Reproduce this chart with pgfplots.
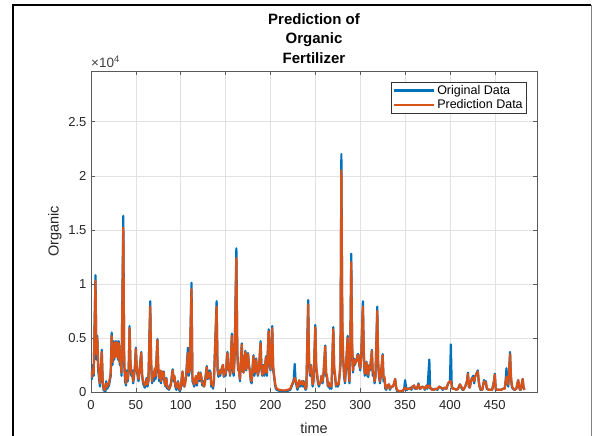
\documentclass[border=0pt]{standalone}
\usepackage{fontspec}
\setmainfont{Liberation Sans}
\usepackage{pgfplots}
\usepackage{pgfplotstable}
\pgfplotsset{compat=1.18}

\definecolor{mblue}{RGB}{0,114,189}
\definecolor{morange}{RGB}{217,83,25}
\definecolor{gridc}{RGB}{226,226,226}
\definecolor{axc}{RGB}{90,90,90}

% time, original, prediction
\pgfplotstableread{
t o p
0 2000 1800
1 1200 1400
2 2500 2200
3 1500 1700
5 10800 10300
6 3000 3500
7 5200 5000
8 2000 2500
10 500 800
12 3900 3700
13 1000 1200
14 200 400
15 100 200
16 0 300
17 1000 800
18 300 500
20 600 800
22 1500 1800
23 5500 5200
24 2500 2800
25 4700 4500
26 3000 3200
27 4700 4600
28 3500 3300
29 4700 4600
30 3000 3100
31 4700 4500
32 2500 2800
33 3000 2700
34 1500 1800
36 16300 15200
37 2500 3000
38 1000 1400
39 600 800
40 2000 1800
41 1000 1200
42 2000 2200
43 6100 5900
44 2500 2700
45 1500 1800
46 2000 1700
47 800 1000
48 1500 1700
49 2500 2200
50 4100 4000
51 2000 2200
52 1500 1700
53 1000 1200
54 2000 1800
56 3700 3600
57 1500 1600
58 800 1000
60 400 600
61 1000 800
62 1300 1200
63 500 700
64 1000 1200
66 8400 7900
67 2500 3000
68 800 1000
69 1800 1600
70 1000 1400
71 2000 2200
72 1200 1500
74 4900 4800
75 2000 2200
76 1000 1300
77 1900 2000
78 800 1000
79 1900 1900
80 1200 1400
81 1900 1800
82 800 900
83 500 600
84 1300 1200
85 300 500
86 500 400
87 200 300
89 800 600
91 2100 2000
92 1000 1200
93 1400 1500
94 500 700
95 200 400
97 1000 900
98 200 400
99 100 200
100 300 500
102 1900 1900
103 600 800
104 500 500
105 1000 800
106 1500 1400
108 4100 3600
109 1500 1800
110 2000 2200
112 10100 9500
113 1000 1400
114 800 1000
115 500 700
116 1000 1200
117 1300 1500
118 600 800
120 1800 1800
121 1000 1200
122 1800 1700
123 1200 1400
124 600 800
125 1000 800
126 500 500
127 1000 800
129 2400 2300
130 1200 1300
131 1300 1400
132 2000 1800
133 1900 1800
134 500 700
135 800 800
136 300 500
137 1000 1200
140 8400 7900
141 2000 2500
142 1400 1600
143 2000 1900
144 1500 1700
145 2000 1900
147 2500 2500
148 1400 1500
149 2000 1900
150 1500 1700
152 3700 3600
153 2000 2100
154 2500 2300
155 1500 1600
157 5400 5200
158 2000 2200
159 1500 1800
160 3000 3200
162 13300 12400
163 3500 4000
164 2000 2200
165 2000 1900
166 1000 1200
168 4500 4400
169 2000 2200
170 1800 1800
172 3800 3700
173 2000 2100
175 3600 3500
176 2500 2400
177 2000 2000
178 1000 1200
179 800 1000
181 3400 3300
182 1500 1800
183 2000 2000
184 3100 3000
185 2000 2100
186 1500 1600
187 2000 2100
189 4700 4500
190 2000 2200
191 1500 1600
192 2500 2400
193 1500 1700
195 3300 3200
196 1500 1800
198 5800 5600
199 2500 2800
200 2000 2100
202 6100 5900
203 2000 2400
204 1500 1600
205 700 900
206 300 500
207 200 300
210 100 200
213 100 150
216 100 150
219 100 200
222 200 300
224 600 700
225 800 900
226 1200 1000
227 2600 1300
228 1000 1100
229 600 800
230 200 400
231 500 600
232 1000 1100
233 500 700
234 800 900
235 1000 1000
236 500 700
237 1000 900
238 500 700
239 200 300
240 300 500
242 8500 8100
243 2500 3000
244 1500 1700
245 2500 2400
246 1500 1600
247 500 700
248 1000 1100
250 6200 6000
251 2000 2300
252 1500 1700
253 800 900
254 500 700
255 800 800
256 1000 900
257 1500 1500
258 800 1000
259 1500 1600
261 4300 4200
262 1500 1800
263 1400 1500
264 500 600
265 800 900
266 300 500
267 600 600
268 300 500
270 6000 5800
271 2000 2300
272 1400 1600
273 500 600
274 800 800
275 500 700
276 700 800
277 1500 1600
278 2500 2800
279 22000 20500
280 6000 7000
281 3000 3200
282 1500 1800
283 800 1000
284 2000 2200
286 5200 5000
287 2000 2300
288 800 1000
289 4000 4500
290 12800 12000
291 4000 4500
292 1800 2000
293 3100 3000
294 2500 2600
296 3000 2900
297 3500 3400
298 3500 3400
299 2500 2600
300 2000 2200
301 3000 3000
303 8400 7900
304 3500 3800
305 1500 1700
306 2000 2000
307 2800 2700
308 1500 1700
309 1400 1600
310 2500 2400
311 2000 2100
313 3900 3800
314 1500 1800
315 1800 1800
316 800 1000
317 1500 1400
319 7900 7500
320 2500 2800
321 1400 1600
322 800 1000
323 1500 1600
325 3500 3400
326 1000 1300
327 1300 1400
328 300 500
329 200 300
330 500 600
332 700 700
333 200 300
334 400 500
336 500 500
337 600 600
339 1200 1200
340 400 500
341 100 200
343 0 100
345 100 100
347 0 100
349 300 300
350 1100 400
351 500 300
352 200 300
354 300 300
356 400 300
357 200 300
358 400 500
360 600 600
361 300 400
363 300 300
365 800 700
366 300 400
367 300 300
369 500 500
371 400 400
372 200 300
374 600 600
375 300 400
377 3000 600
378 300 400
380 300 200
382 200 200
384 300 300
386 200 300
388 500 500
390 400 400
392 200 300
394 400 400
396 300 300
398 800 800
400 1000 1000
401 4400 1000
402 500 600
403 300 300
405 300 300
407 200 200
409 300 300
411 700 700
412 500 600
414 200 300
415 200 200
417 500 500
419 1000 1000
420 1800 1700
421 500 700
422 400 400
424 1200 1200
426 1500 1300
427 800 1000
428 1400 1400
431 2000 1900
432 1000 1100
433 500 500
434 200 300
436 200 200
438 1100 1000
439 800 800
440 1000 900
441 300 400
443 200 200
445 200 200
447 200 200
449 1000 900
450 1700 1600
451 200 300
453 200 200
455 200 200
457 200 200
459 300 300
461 300 300
462 1000 1000
463 2200 1400
464 800 1000
465 500 700
467 3700 3500
468 1200 1500
469 500 600
470 300 400
472 200 200
474 300 300
476 1100 1100
477 500 600
478 200 200
479 200 300
481 1200 1200
482 400 500
483 200 200
}\organic

\begin{document}
\begin{tikzpicture}[x=1pt,y=1pt]
\useasboundingbox (0,0) rectangle (592,436);
\fill[white] (0,0) rectangle (592,436);
% figure frame
\draw[black, line width=1.6pt] (13,0) -- (13,431) -- (591,431);
\draw[gray, line width=0.8pt] (591,431) -- (591,0);

\begin{axis}[
    at={(91pt,44pt)}, anchor=south west,
    scale only axis,
    width=446pt, height=321pt,
    xmin=0, xmax=497,
    ymin=0, ymax=29700,
    xtick={0,50,...,450},
    ytick={0,5000,10000,15000,20000,25000},
    yticklabels={0,0.5,1,1.5,2,2.5},
    scaled y ticks=false,
    tick align=inside,
    major tick length=4pt,
    tick style={axc, line width=0.6pt},
    axis line style={axc, line width=0.8pt},
    grid=major,
    grid style={gridc, line width=0.6pt},
    /pgf/number format/assume math mode=true,
    ticklabel style={font=\fontsize{13}{15}\selectfont, text=black!85},
    xticklabel style={yshift=-5pt},
    yticklabel style={xshift=-1pt},
    title={Prediction of\\Organic\\Fertilizer},
    title style={at={(0.5,1)}, anchor=south, yshift=-2pt, align=center,
        font=\bfseries\fontsize{15}{19.5}\selectfont},
    xlabel={time},
    ylabel={Organic},
    xlabel style={at={(axis description cs:0.5,-0.112)}, anchor=center,
        font=\fontsize{14.5}{16}\selectfont, text=black!85},
    ylabel style={at={(axis description cs:-0.081,0.5)}, anchor=center,
        font=\fontsize{14.5}{16}\selectfont, text=black!85},
    legend style={at={(0.9776,0.9657)}, anchor=north east,
        draw=black!80, fill=white, line width=0.6pt,
        font=\fontsize{12.5}{14}\selectfont,
        inner xsep=2pt, inner ysep=1pt, row sep=0pt},
    legend cell align=left,
    legend image code/.code={\draw[#1, line width=2.2pt] (0pt,0pt) -- (40pt,0pt);},
    clip mode=individual,
]
\addplot[mblue, line width=2.2pt, line join=round] table[x=t, y=o] {\organic};
\addlegendentry{Original Data}
\addplot[morange, line width=2.2pt, line join=round] table[x=t, y=p] {\organic};
\addlegendentry{Prediction Data}
\node[anchor=south west, inner sep=0pt, font=\fontsize{13.5}{15}\selectfont, text=black!75]
    at (rel axis cs:0,1) [yshift=3pt] {×10\textsuperscript{4}};
\end{axis}
\end{tikzpicture}
\end{document}
